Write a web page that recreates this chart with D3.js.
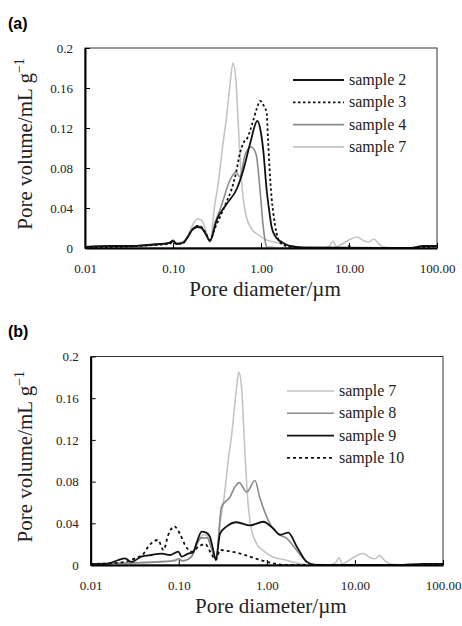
<!DOCTYPE html>
<html>
<head>
<meta charset="utf-8">
<script src="https://cdn.jsdelivr.net/npm/d3@7"></script>
<style>
  body { margin: 0; padding: 0; background: #fff; }
  svg { display: block; }
</style>
</head>
<body>
<div id="main"></div>
<script>
// pore diameter (um) / pore volume (mL/g) pairs
const sample2 = [[0.01,0.001],[0.02,0.002],[0.035,0.002],[0.05,0.003],[0.07,0.004],[0.09,0.005],[0.1,0.007],[0.11,0.004],[0.13,0.005],[0.145,0.01],[0.165,0.018],[0.19,0.021],[0.21,0.02],[0.235,0.014],[0.263,0.007],[0.314,0.028],[0.407,0.044],[0.53,0.059],[0.63,0.078],[0.75,0.104],[0.908,0.127],[1.0,0.115],[1.06,0.098],[1.16,0.058],[1.25,0.035],[1.32,0.021],[1.45,0.012],[1.58,0.008],[1.8,0.005],[2.14,0.002],[3,0.0005],[50,0],[70,0.002],[100,0.002]];
const sample3 = [[0.01,0.001],[0.02,0.001],[0.04,0.002],[0.06,0.003],[0.09,0.004],[0.1,0.006],[0.11,0.004],[0.13,0.005],[0.145,0.01],[0.165,0.018],[0.19,0.022],[0.21,0.021],[0.235,0.015],[0.263,0.008],[0.3,0.02],[0.35,0.033],[0.4,0.045],[0.46,0.058],[0.52,0.075],[0.577,0.095],[0.63,0.105],[0.7,0.11],[0.8,0.125],[0.9,0.14],[0.975,0.147],[1.08,0.142],[1.16,0.135],[1.2,0.11],[1.25,0.08],[1.32,0.05],[1.38,0.035],[1.5,0.015],[1.6,0.007],[1.8,0.003],[2.2,0.001],[3,0],[9,0],[10,0.002],[11,0],[60,0],[100,0.002]];
const sample4 = [[0.01,0.001],[0.02,0.002],[0.04,0.002],[0.06,0.003],[0.09,0.005],[0.1,0.008],[0.11,0.005],[0.13,0.006],[0.145,0.011],[0.165,0.019],[0.19,0.022],[0.21,0.021],[0.235,0.015],[0.263,0.007],[0.3,0.025],[0.342,0.038],[0.445,0.068],[0.52,0.076],[0.576,0.071],[0.658,0.093],[0.77,0.101],[0.878,0.094],[0.975,0.058],[1.05,0.025],[1.11,0.008],[1.16,0.001],[2,0],[100,0]];
const sample7 = [[0.01,0.001],[0.03,0.002],[0.05,0.003],[0.08,0.004],[0.1,0.006],[0.11,0.004],[0.13,0.006],[0.143,0.01],[0.165,0.022],[0.19,0.029],[0.21,0.028],[0.235,0.018],[0.263,0.006],[0.3,0.045],[0.32,0.059],[0.373,0.107],[0.4,0.126],[0.445,0.164],[0.48,0.185],[0.52,0.167],[0.54,0.14],[0.57,0.1],[0.6,0.068],[0.67,0.034],[0.8,0.018],[0.9,0.014],[1.16,0.008],[1.6,0.005],[2.2,0.002],[3,0],[5,0],[6,0.002],[6.6,0.007],[7.2,0.001],[8,0.003],[10,0.008],[12.3,0.011],[15,0.007],[17,0.006],[19,0.009],[22,0.004],[25,0.001],[40,0],[100,0]];
const sample8 = [[0.01,0.001],[0.03,0.002],[0.06,0.003],[0.09,0.004],[0.1,0.006],[0.11,0.004],[0.14,0.008],[0.16,0.02],[0.18,0.026],[0.21,0.026],[0.235,0.016],[0.264,0.005],[0.306,0.056],[0.38,0.065],[0.435,0.075],[0.486,0.079],[0.59,0.07],[0.733,0.081],[0.83,0.065],[1.08,0.04],[1.41,0.029],[1.68,0.0256],[2.19,0.014],[2.84,0.003],[3.5,0.0005],[10,0],[100,0]];
const sample9 = [[0.01,0.001],[0.015,0.001],[0.0206,0.0048],[0.0245,0.0064],[0.029,0.003],[0.0376,0.008],[0.049,0.0096],[0.064,0.011],[0.08,0.0096],[0.0986,0.0128],[0.108,0.008],[0.128,0.011],[0.145,0.012],[0.159,0.021],[0.182,0.032],[0.205,0.031],[0.226,0.027],[0.245,0.015],[0.264,0.005],[0.294,0.03],[0.35,0.037],[0.454,0.041],[0.643,0.038],[0.91,0.0415],[1.18,0.035],[1.41,0.029],[1.75,0.031],[2.19,0.0176],[2.84,0.003],[3.5,0],[30,0],[60,0.001],[100,0.001]];
const sample10 = [[0.01,0.001],[0.02,0.002],[0.032,0.0064],[0.04,0.011],[0.045,0.0176],[0.049,0.021],[0.058,0.024],[0.067,0.0144],[0.076,0.029],[0.089,0.037],[0.103,0.03],[0.118,0.019],[0.14,0.0128],[0.17,0.018],[0.2,0.02],[0.23,0.012],[0.264,0.005],[0.294,0.0144],[0.38,0.013],[0.5,0.011],[0.64,0.008],[0.83,0.005],[1.18,0.0016],[1.6,0],[60,0],[100,0.001]];

const xTicks = [0.01, 0.1, 1, 10, 100];
const yTicks = [0, 0.04, 0.08, 0.12, 0.16, 0.2];
const yTickLabels = ['0', '0.04', '0.08', '0.12', '0.16', '0.2'];

const panelA = [
    {name: 'sample 2', data: sample2},
    {name: 'sample 3', data: sample3},
    {name: 'sample 4', data: sample4},
    {name: 'sample 7', data: sample7}
];
const panelB = [
    {name: 'sample 7', data: sample7},
    {name: 'sample 8', data: sample8},
    {name: 'sample 9', data: sample9},
    {name: 'sample 10', data: sample10}
];

const STYLES = {
    'sample 2': {stroke: '#111', width: 1.8, dash: null},
    'sample 3': {stroke: '#111', width: 1.8, dash: '2.5,2.5'},
    'sample 4': {stroke: '#8a8a8a', width: 1.6, dash: null},
    'sample 7': {stroke: '#c4c4c4', width: 1.6, dash: null},
    'sample 8': {stroke: '#8a8a8a', width: 1.6, dash: null},
    'sample 9': {stroke: '#111', width: 1.8, dash: null},
    'sample 10': {stroke: '#111', width: 1.8, dash: '3,3'}
};
const SERIF = '"Liberation Serif", "Times New Roman", serif';

const svg = d3.select('#main').append('svg').attr('width', 462).attr('height', 626);
svg.append('rect').attr('width', 462).attr('height', 626).attr('fill', '#fff');

const drawPanel = (series, props) => {
    const {left, right, top, bottom, letter, letterY, legendX, legendY, legendStep, legendLen, drawOrder} = props;
    const x = d3.scaleLog().domain([0.01, 100]).range([left, right]);
    const y = d3.scaleLinear().domain([0, 0.2]).range([bottom, top]);
    const g = svg.append('g');

    g.append('text').text(letter).attr('x', 8).attr('y', letterY)
        .attr('font-family', '"Liberation Sans", Arial, sans-serif').attr('font-weight', 'bold').attr('font-size', 16);

    // frame (top & right thin)
    g.append('rect').attr('x', left).attr('y', top).attr('width', right - left).attr('height', bottom - top)
        .attr('fill', 'none').attr('stroke', '#333').attr('stroke-width', 1);

    const line = d3.line().x((d) => x(d[0])).y((d) => y(d[1])).curve(d3.curveMonotoneX);
    drawOrder.forEach((i) => {
        const s = series[i];
        const st = STYLES[s.name];
        g.append('path').datum(s.data).attr('d', line)
            .attr('fill', 'none').attr('stroke', st.stroke).attr('stroke-width', st.width)
            .attr('stroke-dasharray', st.dash).attr('stroke-linejoin', 'round');
    });

    const axisX = d3.axisBottom(x).tickValues(xTicks).tickFormat(d3.format('.2f')).tickSizeInner(-5).tickSizeOuter(0).tickPadding(16);
    const gx = g.append('g').attr('transform', `translate(0, ${bottom})`).call(axisX);
    const axisY = d3.axisLeft(y).tickValues(yTicks).tickFormat((d, i) => yTickLabels[i]).tickSizeInner(-5).tickSizeOuter(0).tickPadding(12);
    const gy = g.append('g').attr('transform', `translate(${left}, 0)`).call(axisY);
    [gx, gy].forEach((a) => {
        a.select('.domain').attr('stroke', '#000').attr('stroke-width', 2);
        a.selectAll('.tick line').attr('stroke', '#000').attr('stroke-width', 1);
        a.selectAll('text').attr('font-family', SERIF).attr('font-size', 13).attr('fill', '#222');
    });

    g.append('text').attr('x', (left + right) / 2 + 4).attr('y', bottom + 48)
        .attr('text-anchor', 'middle').attr('font-family', SERIF).attr('font-size', 21).attr('fill', '#222')
        .text('Pore diameter/\u00b5m');

    const yl = g.append('text').attr('transform', `translate(32, ${(top + bottom) / 2 - 4}) rotate(-90)`)
        .attr('text-anchor', 'middle').attr('font-family', SERIF).attr('font-size', 21).attr('fill', '#222');
    yl.append('tspan').text('Pore volume/mL g');
    yl.append('tspan').attr('dy', -8).attr('font-size', 14).text('\u22121');

    const legend = g.append('g');
    series.forEach((s, i) => {
        const st = STYLES[s.name];
        const ly = legendY + i * legendStep;
        legend.append('line').attr('x1', legendX).attr('x2', legendX + legendLen).attr('y1', ly).attr('y2', ly)
            .attr('stroke', st.stroke).attr('stroke-width', st.width).attr('stroke-dasharray', st.dash);
        legend.append('text').attr('x', legendX + legendLen + 5).attr('y', ly).attr('dy', '0.32em')
            .attr('font-family', SERIF).attr('font-size', 16).attr('fill', '#222').text(s.name);
    });
};

drawPanel(panelA, {left: 85, right: 437, top: 48, bottom: 248, letter: '(a)', letterY: 29,
    legendX: 293, legendY: 80, legendStep: 22.3, legendLen: 51, drawOrder: [3, 2, 1, 0]});
drawPanel(panelB, {left: 90.7, right: 443, top: 356.5, bottom: 565, letter: '(b)', letterY: 337,
    legendX: 287, legendY: 391, legendStep: 22.3, legendLen: 47, drawOrder: [0, 1, 3, 2]});
</script>
</body>
</html>
